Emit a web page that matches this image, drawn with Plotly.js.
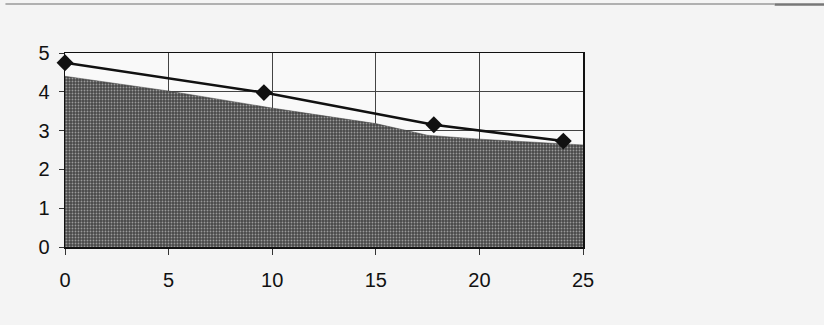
<!DOCTYPE html>
<html>
<head>
<meta charset="utf-8">
<script src="https://cdn.plot.ly/plotly-3.0.1.min.js"></script>
<style>html,body{margin:0;padding:0;background:#f4f4f4;}#chart{width:824px;height:325px;}</style>
</head>
<body>
<div id="chart"></div>
<script>
// Filled area (lower curve)
var areaX = [0, 5, 10, 15, 17.5, 20, 25];
var areaY = [4.4, 4.02, 3.58, 3.18, 2.88, 2.78, 2.63];
// Line with diamond markers
var lineX = [0, 9.6, 17.8, 24.05];
var lineY = [4.75, 3.98, 3.15, 2.73];
// Tick labels
var xTicks = [0, 5, 10, 15, 20, 25];
var yTicks = [0, 1, 2, 3, 4, 5];

var tickFont = {family: 'Liberation Sans, Arial, sans-serif', size: 20, color: '#111'};

var traces = [
  {
    x: areaX, y: areaY, type: 'scatter', mode: 'lines',
    fill: 'tozeroy', line: {color: '#444', width: 0.5},
    fillcolor: '#555',
    fillpattern: {shape: '.', bgcolor: '#484848', fgcolor: '#9a9a9a', size: 3, solidity: 0.3},
    hoverinfo: 'skip', showlegend: false
  },
  {
    x: lineX, y: lineY, type: 'scatter', mode: 'lines+markers',
    line: {color: '#111111', width: 2.5},
    marker: {symbol: 'diamond', size: 13, color: '#111111'},
    cliponaxis: false, showlegend: false
  }
];

var layout = {
  width: 824, height: 325,
  margin: {l: 65, r: 241, t: 53, b: 78},
  paper_bgcolor: '#f4f4f4',
  plot_bgcolor: '#f9f9f9',
  font: tickFont,
  xaxis: {
    range: [0, 25], tickvals: xTicks, ticktext: xTicks.map(String), tickfont: tickFont,
    showgrid: true, gridcolor: '#444', gridwidth: 1,
    zeroline: false, showline: true, linecolor: '#111', linewidth: 1.5, mirror: true,
    ticks: 'outside', ticklen: 6, tickcolor: '#333', ticklabelstandoff: 8
  },
  yaxis: {
    range: [0, 5], tickvals: yTicks, ticktext: yTicks.map(String), tickfont: tickFont,
    showgrid: true, gridcolor: '#444', gridwidth: 1,
    zeroline: false, showline: true, linecolor: '#111', linewidth: 1.5, mirror: true,
    ticks: 'outside', ticklen: 5, tickcolor: '#333', ticklabelstandoff: 5
  },
  shapes: [
    {type: 'line', xref: 'paper', yref: 'paper', x0: -0.115, x1: 1.37, y0: 1.253, y1: 1.253,
     line: {color: '#9a9a9a', width: 1.5}},
    {type: 'line', xref: 'paper', yref: 'paper', x0: 1.37, x1: 1.47, y0: 1.25, y1: 1.25,
     line: {color: '#777', width: 2.5}}
  ]
};

Plotly.newPlot('chart', traces, layout, {displayModeBar: false, staticPlot: true});
</script>
</body>
</html>
